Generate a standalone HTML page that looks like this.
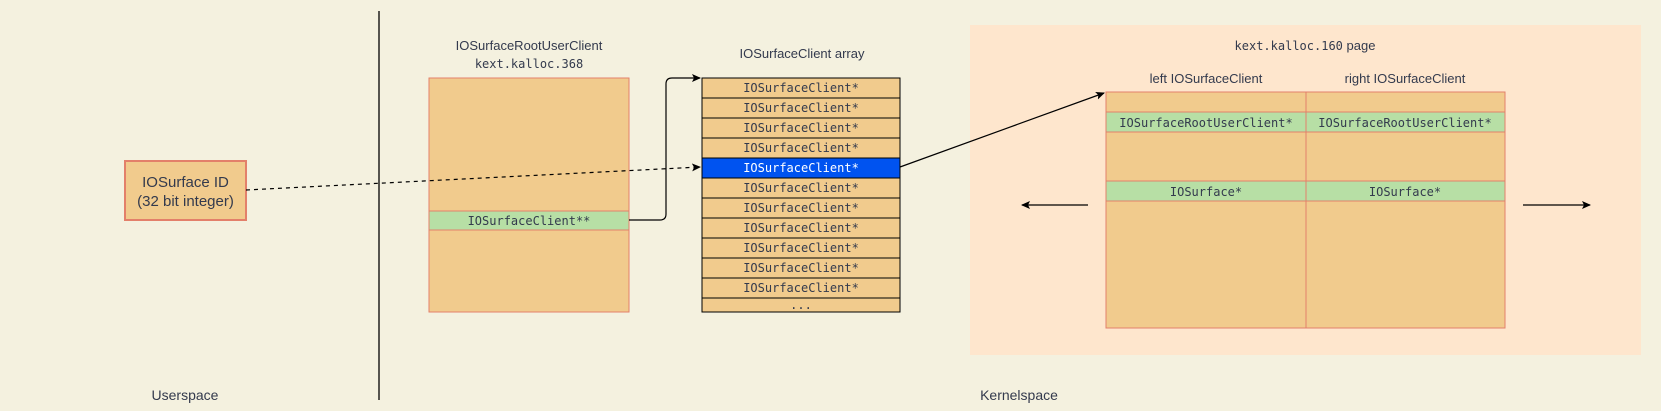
<!DOCTYPE html>
<html><head><meta charset="utf-8"><style>
html,body{margin:0;padding:0;background:#f4f1df;}
svg{display:block}
.s{font-family:"Liberation Sans",sans-serif;fill:#333a4d}
.m{font-family:"DejaVu Sans Mono","Liberation Mono",monospace;fill:#333a4d;font-size:12px}
</style></head><body>
<svg width="1661" height="411" viewBox="0 0 1661 411" xmlns="http://www.w3.org/2000/svg">
<defs>
<marker id="a" markerWidth="10" markerHeight="10" refX="8" refY="4" orient="auto" markerUnits="userSpaceOnUse">
<path d="M0,0 L9,4 L0,8 L2,4 Z" fill="#000"/></marker>
</defs>
<rect width="1661" height="411" fill="#f4f1df"/>
<line x1="379" y1="11" x2="379" y2="400" stroke="#000" stroke-width="1.3"/>
<text class="s" x="185" y="400" font-size="14" text-anchor="middle">Userspace</text>
<text class="s" x="1019" y="400" font-size="14" text-anchor="middle">Kernelspace</text>

<!-- ID box -->
<rect x="125" y="161" width="121" height="59" fill="#f1cb8d" stroke="#e3806a" stroke-width="2"/>
<text class="s" x="185.5" y="187" font-size="15" text-anchor="middle">IOSurface ID</text>
<text class="s" x="185.5" y="206" font-size="15" text-anchor="middle">(32 bit integer)</text>

<!-- root user client -->
<text class="s" x="529" y="50" font-size="13" text-anchor="middle">IOSurfaceRootUserClient</text>
<text class="m" x="529" y="68" font-size="13" text-anchor="middle">kext.kalloc.368</text>
<rect x="429" y="78" width="200" height="234" fill="#f1cb8d" stroke="#e3806a" stroke-width="1"/>
<rect x="429" y="211" width="200" height="19" fill="#b7dfa5" stroke="#e3806a" stroke-width="1"/>
<text class="m" x="529" y="225" text-anchor="middle">IOSurfaceClient**</text>

<!-- array -->
<text class="s" x="802" y="58" font-size="13" text-anchor="middle">IOSurfaceClient array</text>
<g stroke="#000" stroke-width="1">
<rect x="702" y="78" width="198" height="234" fill="#f1cb8d"/>
<rect x="702" y="158" width="198" height="20" fill="#0053f0"/>
<line x1="702" y1="98" x2="900" y2="98"/><line x1="702" y1="118" x2="900" y2="118"/>
<line x1="702" y1="138" x2="900" y2="138"/><line x1="702" y1="158" x2="900" y2="158"/>
<line x1="702" y1="178" x2="900" y2="178"/><line x1="702" y1="198" x2="900" y2="198"/>
<line x1="702" y1="218" x2="900" y2="218"/><line x1="702" y1="238" x2="900" y2="238"/>
<line x1="702" y1="258" x2="900" y2="258"/><line x1="702" y1="278" x2="900" y2="278"/>
<line x1="702" y1="298" x2="900" y2="298"/>
</g>
<g class="m" text-anchor="middle">
<text x="801" y="92">IOSurfaceClient*</text><text x="801" y="112">IOSurfaceClient*</text>
<text x="801" y="132">IOSurfaceClient*</text><text x="801" y="152">IOSurfaceClient*</text>
<text x="801" y="172" style="fill:#fff">IOSurfaceClient*</text><text x="801" y="192">IOSurfaceClient*</text>
<text x="801" y="212">IOSurfaceClient*</text><text x="801" y="232">IOSurfaceClient*</text>
<text x="801" y="252">IOSurfaceClient*</text><text x="801" y="272">IOSurfaceClient*</text>
<text x="801" y="292">IOSurfaceClient*</text><text x="801" y="309">...</text>
</g>

<!-- connectors -->
<path d="M629,220 L660,220 Q666,220 666,214 L666,84 Q666,78 672,78 L700,78" fill="none" stroke="#000" stroke-width="1.2" marker-end="url(#a)"/>
<path d="M246,190 L700,167" fill="none" stroke="#000" stroke-width="1.2" stroke-dasharray="4,4" marker-end="url(#a)"/>

<!-- kernel page -->
<rect x="970" y="25" width="671" height="330" fill="#fee6cd"/>
<text x="1305" y="50" font-size="13" text-anchor="middle"><tspan class="m" font-size="13">kext.kalloc.160</tspan><tspan class="s" font-size="13"> page</tspan></text>
<text class="s" x="1206" y="83" font-size="13" text-anchor="middle">left IOSurfaceClient</text>
<text class="s" x="1405" y="83" font-size="13" text-anchor="middle">right IOSurfaceClient</text>
<g stroke="#e3806a" stroke-width="1">
<rect x="1106" y="92" width="399" height="236" fill="#f1cb8d"/>
<rect x="1106" y="112" width="399" height="20" fill="#b7dfa5"/>
<rect x="1106" y="181" width="399" height="20" fill="#b7dfa5"/>
<line x1="1306" y1="92" x2="1306" y2="328"/>
</g>
<g class="m" text-anchor="middle">
<text x="1206" y="127">IOSurfaceRootUserClient*</text>
<text x="1405" y="127">IOSurfaceRootUserClient*</text>
<text x="1206" y="196">IOSurface*</text>
<text x="1405" y="196">IOSurface*</text>
</g>
<path d="M900,167 L1104,93" fill="none" stroke="#000" stroke-width="1.2" marker-end="url(#a)"/>
<path d="M1088,205 L1022,205" fill="none" stroke="#000" stroke-width="1.2" marker-end="url(#a)"/>
<path d="M1523,205 L1590,205" fill="none" stroke="#000" stroke-width="1.2" marker-end="url(#a)"/>
</svg>
</body></html>
